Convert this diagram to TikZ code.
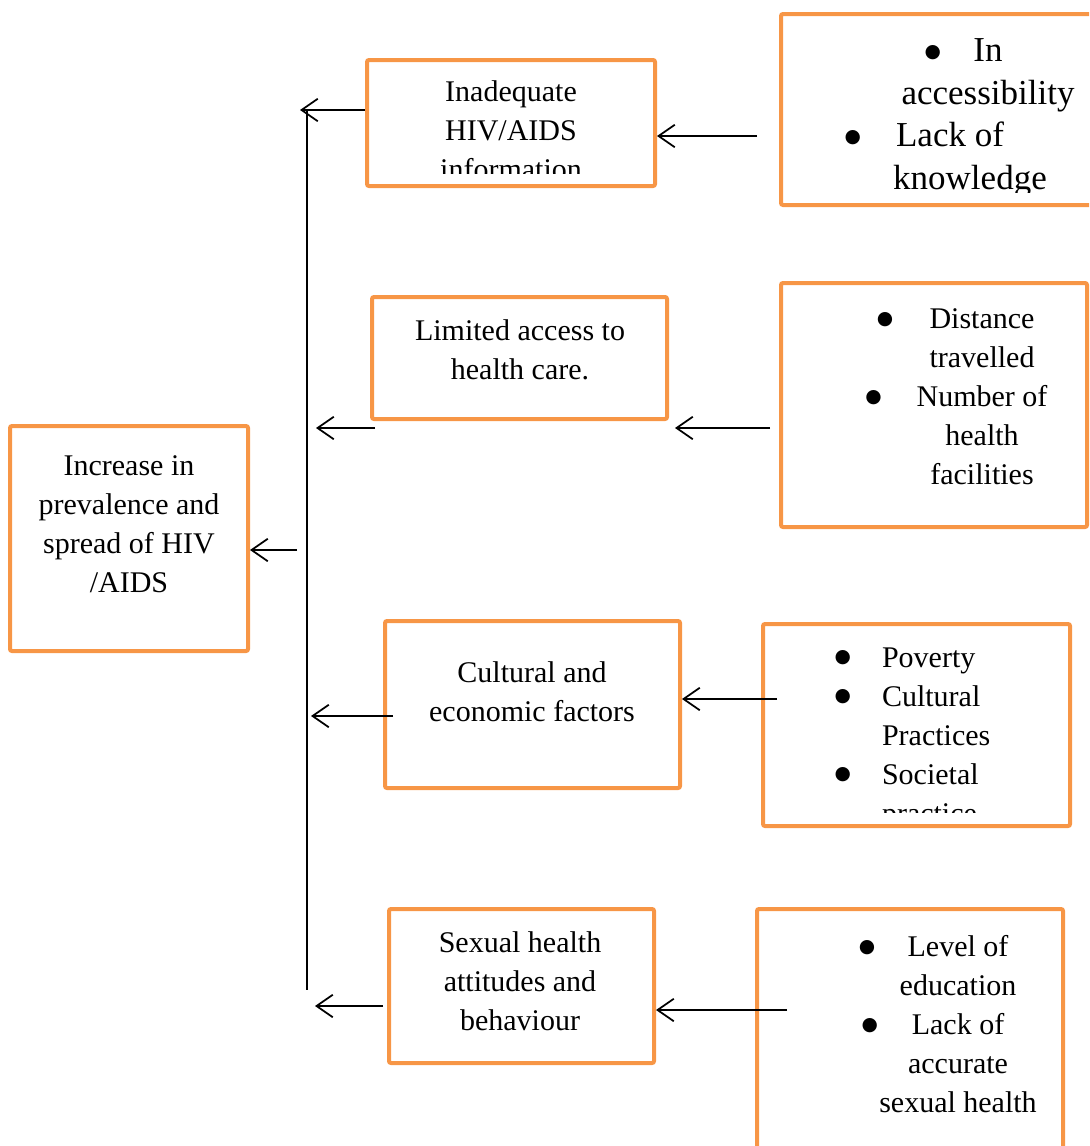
\documentclass[tikz,border=0pt]{standalone}
\usepackage{fontspec}
\setmainfont{Liberation Serif}
\newfontfamily\dotfont{DejaVu Sans}
\usetikzlibrary{arrows.meta, positioning, fit}
\definecolor{wordorange}{HTML}{F79646}
\newcommand{\dotmark}{\raisebox{1.7pt}{\dotfont\fontsize{7.5}{7.5}\selectfont ●}}

\begin{document}
\begin{tikzpicture}[x=0.4pt, y=-0.4pt,
            frame/.style={draw=wordorange, line width=1.6pt, rounded corners=0.8pt, inner sep=0pt},
            label/.style={inner sep=0pt, align=center, font=\fontsize{12}{15.6}\selectfont},
            biglabel/.style={inner sep=0pt, align=center, font=\fontsize{14}{17.1}\selectfont},
            feeds/.style={-{Straight Barb[length=6.5pt, width=9pt]}, line width=0.7pt}]

            % page size of the original figure
            \clip (0,0) rectangle (1089,1146);

            % Outcome box on the left
            \node[frame, fit={(10,426) (248,651)}] (outcome) {};
            \node[label, anchor=north] (outcometext) at (129,455)
                {Increase in\\prevalence and\\spread of HIV\\/AIDS};

            % Factor boxes in the middle
            \node[frame, fit={(367,60) (655,186)}] (info) {};
            \begin{scope}
                \clip (367,60) rectangle (655,173);
                \node[label, anchor=north] (infotext) at (511,80)
                    {Inadequate\\HIV/AIDS\\information};
            \end{scope}

            \node[frame, fit={(372,297) (667,419)}] (access) {};
            \node[label, anchor=north] (accesstext) at (520,319)
                {Limited access to\\health care.};

            \node[frame, fit={(385,621) (680,788)}] (culture) {};
            \node[label, anchor=north] (culturetext) at (532,661)
                {Cultural and\\economic factors};

            \node[frame, fit={(389,909) (654,1063)}] (sexual) {};
            \node[label, anchor=north] (sexualtext) at (520,931)
                {Sexual health\\attitudes and\\behaviour};

            % Indicator boxes on the right
            \node[frame, fit={(781,14) (1095,205)}] (infoind) {};
            \begin{scope}
                \clip (781,14) rectangle (1089,192);
                \node[biglabel, anchor=north] (infoindtext) at (988,38)
                    {\llap{\dotmark\hspace*{13pt}}In\\accessibility\\
                     \hspace*{-30.4pt}\llap{\dotmark\hspace*{14pt}}Lack of\\
                     \hspace*{-14.4pt}knowledge};
            \end{scope}

            \node[frame, fit={(781,283) (1087,527)}] (accessind) {};
            \node[label, anchor=north] (accessindtext) at (982,308)
                {\llap{\dotmark\hspace*{14.5pt}}Distance\\travelled\\
                 \llap{\dotmark\hspace*{14pt}}Number of\\health\\facilities};

            \node[frame, fit={(763,624) (1070,826)}] (cultureind) {};
            \begin{scope}
                \clip (763,624) rectangle (1070,812);
                \node[label, align=left, anchor=north west] (cultureindtext) at (834,647)
                    {\makebox[19pt][l]{\dotmark}Poverty\\
                     \makebox[19pt][l]{\dotmark}Cultural\\
                     \hspace*{19pt}Practices\\
                     \makebox[19pt][l]{\dotmark}Societal\\
                     \hspace*{19pt}practice};
            \end{scope}

            \node[frame, fit={(757,909) (1063,1180)}] (sexualind) {};
            \node[label, anchor=north] (sexualindtext) at (958,935)
                {\llap{\dotmark\hspace*{13pt}}Level of\\education\\
                 \llap{\dotmark\hspace*{13.5pt}}Lack of\\accurate\\sexual health};

            % Free ends of the connectors
            \coordinate (spinetop) at (307,110);
            \coordinate (spinebot) at (307,990);
            \coordinate (toinfo) at (300,110);
            \coordinate (toout) at (297,550);
            \coordinate (accessfrom) at (375,428);
            \coordinate (toaccess) at (316,428);
            \coordinate (culturefrom) at (393,716);
            \coordinate (toculture) at (311,716);
            \coordinate (sexualfrom) at (383,1006);
            \coordinate (tosexual) at (315,1006);
            \coordinate (infoindfrom) at (757,136);
            \coordinate (accessindfrom) at (770,428);
            \coordinate (cultureindfrom) at (777,699);
            \coordinate (sexualindfrom) at (787,1010);

            % Spine and arrows into the outcome
            \draw[line width=0.7pt] (spinetop) -- (spinebot);
            \draw[feeds] (toout) -- (outcome.east |- toout);
            \draw[feeds] (info.west |- toinfo) -- (toinfo);
            \draw[feeds] (accessfrom) -- (toaccess);
            \draw[feeds] (culturefrom) -- (toculture);
            \draw[feeds] (sexualfrom) -- (tosexual);

            % Arrows from indicators to factors
            \draw[feeds] (infoindfrom) -- (info.east |- infoindfrom);
            \draw[feeds] (accessindfrom) -- ([xshift=2.4pt]access.east |- accessindfrom);
            \draw[feeds] (cultureindfrom) -- (culture.east |- cultureindfrom);
            \draw[feeds] (sexualindfrom) -- (sexual.east |- sexualindfrom);
        \end{tikzpicture}
\end{document}
